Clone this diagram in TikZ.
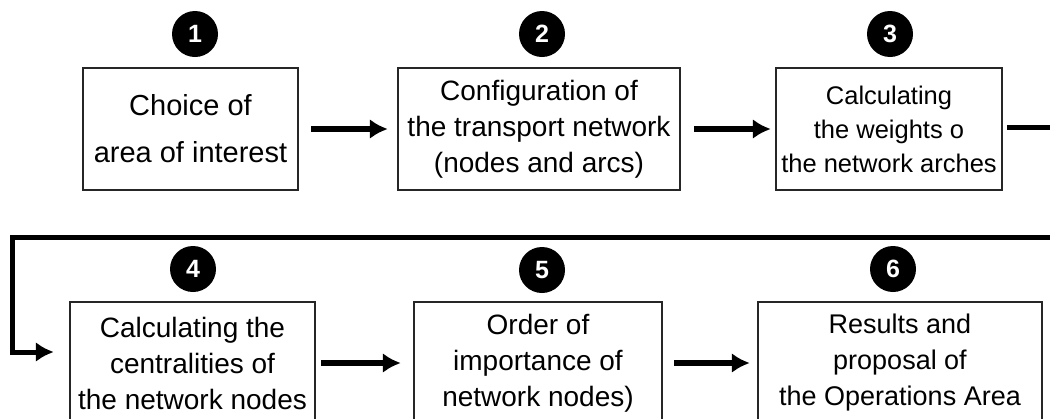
\documentclass[tikz,border=0pt]{standalone}
\usepackage{fontspec}
\setmainfont{Liberation Sans}
\usetikzlibrary{arrows.meta}
\tikzset{>={Latex[length=18pt,width=20pt]}}
\tikzset{
  stepbox/.style={draw=black!85,line width=2.5pt,inner sep=0pt,align=center,
    font=\fontsize{28}{36}\selectfont},
  badge/.style={circle,fill=black,text=white,minimum size=46pt,inner sep=0pt,
    font=\fontsize{25}{25}\selectfont\bfseries},
  flow/.style={->,line width=6pt},
}

\begin{document}
\begin{tikzpicture}[x=1pt,y=-1pt]
  \useasboundingbox (0,0) rectangle (1050,418);
  \clip (0,0) rectangle (1050,418);
  % first row
  \node[stepbox,minimum width=215pt,minimum height=122pt,
    font=\fontsize{29}{47}\selectfont] (b1) at (190.5,129) {Choice of\\area of interest};
  \node[stepbox,minimum width=282pt,minimum height=122pt] (b2) at (539,129)
    {Configuration of\\the transport network\\(nodes and arcs)};
  \node[stepbox,minimum width=226pt,minimum height=122pt,
    font=\fontsize{25.5}{34}\selectfont] (b3) at (889,129)
    {Calculating\\the weights o\\the network arches};
  \node[badge] (n1) at (195,34) {1};
  \node[badge] (n2) at (542,34) {2};
  \node[badge] (n3) at (890,34) {3};
  % second row
  \node[stepbox,minimum width=245pt,minimum height=122pt] (b4) at (192.5,363)
    {Calculating the\\centralities of\\the network nodes};
  \node[stepbox,minimum width=248pt,minimum height=122pt] (b5) at (538,363)
    {Order of\\importance of\\network nodes)};
  \node[stepbox,minimum width=284pt,minimum height=122pt,
    font=\fontsize{27}{36}\selectfont] (b6) at (900,363)
    {Results and\\proposal of\\the Operations Area};
  \node[badge] (n4) at (193,269) {4};
  \node[badge] (n5) at (542,270) {5};
  \node[badge] (n6) at (893,269) {6};
  % connectors
  \coordinate (turnR) at (1080,237);
  \coordinate (turnL) at (12,237);
  \draw[flow] ([xshift=12pt]b1.east) -- ([xshift=-9pt]b2.west);
  \draw[flow] ([xshift=13pt]b2.east) -- ([xshift=-4pt]b3.west);
  \draw[flow] ([xshift=5pt]b4.east) -- ([xshift=-12pt]b5.west);
  \draw[flow] ([xshift=11pt]b5.east) -- ([xshift=-7pt]b6.west);
  \draw[flow,line width=5pt] ([xshift=4pt,yshift=2pt]b3.east) -- ([yshift=2pt]b3.east -| turnR)
    -- (turnR) -- (turnL) |- ([xshift=-15pt,yshift=11pt]b4.west);
\end{tikzpicture}
\end{document}
